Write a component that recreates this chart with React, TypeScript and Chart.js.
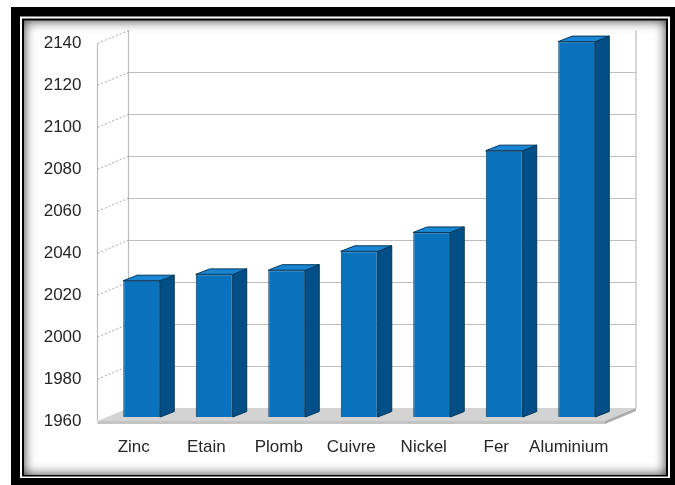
import React, { useEffect, useRef } from "react";
import { Chart, registerables } from "chart.js";

Chart.register(...registerables);

const categories = ["Zinc", "Etain", "Plomb", "Cuivre", "Nickel", "Fer", "Aluminium"];
const values = [2025, 2028, 2030, 2039, 2048, 2087, 2139];
const yMin = 1960;
const yMax = 2140;
const yStep = 20;

const WALL_DX = 31;
const WALL_DY = -13;
const BAR_DX = 8;
const BAR_DY = -4;
const DEPTH_DX = 14;
const DEPTH_DY = -5.5;

const framePlugin = {
  id: "frame",
  beforeDraw(chart: any) {
    const ctx = chart.ctx;
    const W = chart.width;
    const H = chart.height;
    ctx.save();
    ctx.fillStyle = "#ffffff";
    ctx.fillRect(0, 0, W, H);
    ctx.fillStyle = "#000000";
    ctx.fillRect(11, 7, W - 11, H - 7);
    ctx.fillStyle = "#ffffff";
    ctx.fillRect(20, 16.5, 650, 461.5);
    ctx.fillStyle = "#000000";
    ctx.fillRect(22, 18.5, 646, 458);
    const ix = 24, iy = 20.5, iw = 642, ih = 454.5;
    ctx.fillStyle = "#ffffff";
    ctx.fillRect(ix, iy, iw, ih);
    // inner shadow
    ctx.save();
    ctx.beginPath();
    ctx.rect(ix, iy, iw, ih);
    ctx.clip();
    ctx.beginPath();
    ctx.rect(ix - 60, iy - 60, iw + 120, ih + 120);
    ctx.rect(ix, iy, iw, ih);
    ctx.shadowColor = "rgba(0,0,0,0.8)";
    ctx.shadowBlur = 12;
    ctx.fillStyle = "#000";
    ctx.fill("evenodd");
    ctx.restore();
    ctx.restore();
  },
};

const wallsPlugin = {
  id: "walls3d",
  beforeDatasetsDraw(chart: any) {
    const ctx = chart.ctx;
    const ca = chart.chartArea;
    const y = chart.scales.y;
    const bottom = y.getPixelForValue(yMin);
    const top = y.getPixelForValue(yMax);
    ctx.save();
    // floor top
    ctx.fillStyle = "#d3d3d3";
    ctx.beginPath();
    ctx.moveTo(ca.left, bottom);
    ctx.lineTo(ca.right, bottom);
    ctx.lineTo(ca.right + WALL_DX, bottom + WALL_DY);
    ctx.lineTo(ca.left + WALL_DX, bottom + WALL_DY);
    ctx.closePath();
    ctx.fill();
    // floor front edge
    ctx.fillStyle = "#c4c4c4";
    ctx.fillRect(ca.left, bottom, ca.right - ca.left, 3);
    ctx.fillStyle = "#a9a9a9";
    ctx.beginPath();
    ctx.moveTo(ca.right, bottom);
    ctx.lineTo(ca.right + WALL_DX, bottom + WALL_DY);
    ctx.lineTo(ca.right + WALL_DX, bottom + WALL_DY + 3);
    ctx.lineTo(ca.right, bottom + 3);
    ctx.closePath();
    ctx.fill();

    // back wall gridlines
    ctx.strokeStyle = "#bdbdbd";
    ctx.lineWidth = 1.2;
    for (let v = yMin + yStep; v < yMax; v += yStep) {
      const py = Math.round(y.getPixelForValue(v) + WALL_DY) + 0.5;
      ctx.beginPath();
      ctx.moveTo(ca.left + WALL_DX, py);
      ctx.lineTo(ca.right + WALL_DX, py);
      ctx.stroke();
    }
    // back verticals
    ctx.beginPath();
    ctx.moveTo(ca.left + WALL_DX, top + WALL_DY);
    ctx.lineTo(ca.left + WALL_DX, bottom + WALL_DY);
    ctx.moveTo(ca.right + WALL_DX, top + WALL_DY);
    ctx.lineTo(ca.right + WALL_DX, bottom + WALL_DY);
    // front left vertical
    ctx.moveTo(ca.left, top);
    ctx.lineTo(ca.left, bottom);
    ctx.stroke();
    // dotted diagonals on the side wall
    ctx.setLineDash([2, 2]);
    ctx.strokeStyle = "#a8a8a8";
    ctx.lineWidth = 1;
    for (let v = yMin + yStep; v <= yMax; v += yStep) {
      const py = y.getPixelForValue(v);
      ctx.beginPath();
      ctx.moveTo(ca.left, py);
      ctx.lineTo(ca.left + WALL_DX, py + WALL_DY);
      ctx.stroke();
    }
    ctx.setLineDash([]);
    ctx.restore();

    // shift bars into depth
    ctx.save();
    ctx.translate(BAR_DX, BAR_DY);
  },
  afterDatasetsDraw(chart: any) {
    const ctx = chart.ctx;
    const meta = chart.getDatasetMeta(0);
    meta.data.forEach((bar: any) => {
      const { x, y, base, width } = bar.getProps(["x", "y", "base", "width"], true);
      const l = x - width / 2;
      const r = x + width / 2;
      // side face
      ctx.fillStyle = "#014f86";
      ctx.strokeStyle = "#00365c";
      ctx.lineWidth = 1;
      ctx.beginPath();
      ctx.moveTo(r, y);
      ctx.lineTo(r + DEPTH_DX, y + DEPTH_DY);
      ctx.lineTo(r + DEPTH_DX, base + DEPTH_DY);
      ctx.lineTo(r, base);
      ctx.closePath();
      ctx.fill();
      ctx.stroke();
      // top face
      ctx.fillStyle = "#1a86d3";
      ctx.beginPath();
      ctx.moveTo(l, y);
      ctx.lineTo(r, y);
      ctx.lineTo(r + DEPTH_DX, y + DEPTH_DY);
      ctx.lineTo(l + DEPTH_DX, y + DEPTH_DY);
      ctx.closePath();
      ctx.fill();
      ctx.stroke();
    });
    ctx.restore();
  },
};

export default function App() {
  const ref = useRef<HTMLCanvasElement | null>(null);
  useEffect(() => {
    if (!ref.current) return;
    const chart = new Chart(ref.current, {
      type: "bar",
      data: {
        labels: categories,
        datasets: [
          {
            data: values,
            base: yMin,
            backgroundColor: "#0872bd",
            borderColor: "#00365c",
            borderWidth: 1,
            categoryPercentage: 1,
            barPercentage: 0.51,
            clip: false as any,
          } as any,
        ],
      },
      options: {
        responsive: false,
        animation: false,
        layout: { padding: { top: 43.5, right: 70, bottom: 0, left: 0 } },
        plugins: {
          legend: { display: false },
          tooltip: { enabled: false },
          title: { display: false },
        },
        scales: {
          x: {
            grid: { display: false, drawTicks: false },
            border: { display: false },
            ticks: {
              color: "#262626",
              padding: 16,
              maxRotation: 0,
              minRotation: 0,
              autoSkip: false,
              font: { family: "'Liberation Sans', Arial, sans-serif", size: 17 },
            },
            afterFit: (s: any) => {
              s.height = 64;
            },
          },
          y: {
            min: yMin,
            max: yMax,
            grid: { display: false, drawTicks: false },
            border: { display: false },
            ticks: {
              stepSize: yStep,
              color: "#262626",
              padding: 16,
              font: { family: "'Liberation Sans', Arial, sans-serif", size: 17 },
              callback: (v: any) => String(v),
            },
            afterFit: (s: any) => {
              s.width = 97.5;
            },
          },
        },
      },
      plugins: [framePlugin, wallsPlugin],
    });
    return () => chart.destroy();
  }, []);
  return (
    <div style={{ position: "absolute", left: 0, top: 0, width: 675, height: 485 }}>
      <canvas ref={ref} width={675} height={485} style={{ display: "block" }} />
    </div>
  );
}
